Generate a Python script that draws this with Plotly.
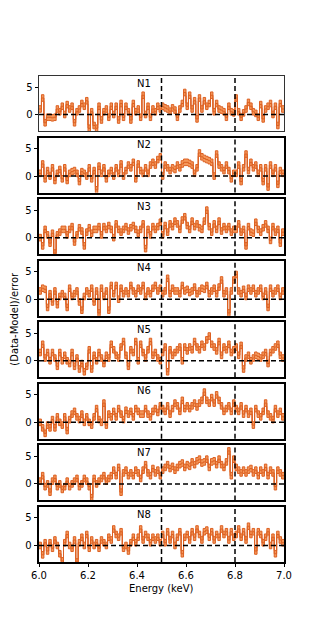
import plotly.graph_objects as go
from plotly.subplots import make_subplots

# ---------------- data ----------------
panel_labels = ["N1", "N2", "N3", "N4", "N5", "N6", "N7", "N8"]
energy_min = 6.0
energy_max = 7.0
bin_width = 0.01
x_ticks = [6.0, 6.2, 6.4, 6.6, 6.8, 7.0]
x_tick_labels = ["6.0", "6.2", "6.4", "6.6", "6.8", "7.0"]
y_ticks = [0, 5]
vlines = [6.5, 6.8]
err_half = 0.6

N1 = [1.0, 3.0, -1.5, -0.5, -0.5, -0.6, -0.5, 1.0, 0.5, 1.5,
      0.0, 1.8, 1.0, 1.5, -1.5, 0.5, 1.0, 2.0, 1.5, 2.5,
      -2.5, 0.5, -2.0, -2.5, 1.5, -1.0, 0.5, 1.0, -0.5, 1.5,
      0.0, 1.5, -1.0, 2.0, -0.5, 1.5, 0.5, -1.0, 2.0, 0.5,
      1.0, -0.5, 3.5, 0.0, 1.5, -0.5, 1.0, 0.5, 1.5, 1.0,
      1.5, 1.2, 1.0, 0.6, 1.2, 0.8, -0.5, 1.0, 2.0, 4.0,
      1.5, 3.5, 1.0, 2.5, -0.8, 3.0, 1.0, 2.5, 1.5, 2.0,
      3.5, 0.5, 2.0, 1.0, 0.8, 0.5, -0.5, 1.5, 0.5, 0.3,
      3.0, 0.5, -0.5, 0.3, 1.0, 2.2, 1.5, 0.5, 0.2, -0.5,
      1.8, -0.8, 1.0, 1.5, 2.0, 0.0, 1.5, -2.0, 2.0, 1.0]
N2 = [0.5, 2.2, -0.5, 1.0, 0.0, 1.5, -0.8, 0.5, 1.2, -0.5,
      1.5, -0.8, 0.5, 0.8, 1.0, 0.5, -1.0, 0.8, 0.5, 0.0,
      1.5, -0.5, 1.0, -2.5, 1.8, 0.5, 1.5, -0.5, 0.5, 1.0,
      0.0, 1.5, 0.5, 2.2, 0.0, 1.0, 2.0, 1.5, 2.5, -0.5,
      2.2, 1.0, 0.5, 1.5, 0.5, 2.0, 2.5, 2.0, 3.0, 3.5,
      0.0, 2.0, 1.5, 1.0, 1.5, 1.2, 2.0, 1.5, 2.2, 2.5,
      2.5, 2.3, 2.0, 0.5, 1.5, 4.2, 3.5, 3.2, 3.0, 2.8,
      2.5, 0.0, 4.0, 2.0, 1.5, 1.0, 2.0, 1.0, -0.5, 0.5,
      0.5, 2.0, -1.0, 1.5, 4.0, 1.0, 2.5, 1.5, 2.0, 0.5,
      1.5, -1.0, 1.5, -2.0, 2.0, 0.5, 1.5, -1.5, 1.0, 0.5]
N3 = [0.0, -1.5, 1.5, 0.5, -1.0, 0.8, -2.8, 0.5, 1.0, 1.5,
      1.5, 0.5, 1.5, 2.0, -0.8, 0.5, 1.8, 1.2, -1.5, 1.0,
      1.8, 0.8, 1.5, 1.5, 2.0, 0.5, 2.0, 1.5, 2.2, 1.5,
      0.0, 2.5, 1.5, 1.0, 1.5, 2.0, 1.2, 1.8, 2.2, 1.5,
      0.8, 1.5, 2.5, -2.0, 1.5, 0.5, 2.0, 1.5, 2.0, 2.8,
      0.5, 2.2, 1.0, 2.5, 2.0, 3.0, 2.5, 1.5, 3.2, 3.8,
      2.2, 1.5, 3.0, 2.0, 2.5, 1.8, 1.5, 3.0, 5.0, 2.0,
      1.0, 2.5, 1.5, 3.0, 1.2, 2.0, 1.5, 2.0, 1.0, 1.5,
      1.5, 2.5, 1.0, 1.5, -1.5, 2.0, 1.0, 0.8, 2.8, 1.5,
      1.0, 1.8, 2.5, 1.5, -0.5, 2.0, 1.0, 1.5, -1.0, 1.0]
N4 = [1.5, 2.0, 1.8, -1.5, 1.0, -0.5, 1.5, -1.0, 0.5, 1.0,
      0.5, -1.5, 2.0, 0.5, 1.0, 1.5, -0.5, -2.0, 0.5, 1.5,
      1.0, 2.0, -0.5, 1.5, -2.5, 2.0, 0.5, 1.5, -2.0, 2.5,
      1.0, 2.5, 0.0, 2.0, 1.0, 1.5, 1.0, 2.5, 1.5, 1.0,
      2.0, 1.5, 2.5, 0.5, 1.5, 1.0, 2.0, 2.5, 1.5, 2.0,
      1.0, 1.5, 3.8, 1.0, 2.0, 1.5, 1.5, 1.0, 2.5, 1.5,
      1.8, 1.2, 1.5, 2.2, 1.0, 1.5, 2.0, 1.8, 2.5, 1.0,
      1.5, 2.0, 1.0, 2.2, 3.5, 1.0, 1.5, -2.5, 1.5, 3.5,
      4.5, 1.5, 1.0, 1.8, 0.5, 2.0, 1.5, 2.0, 1.0, 1.5,
      2.0, 0.5, 1.5, -1.5, 2.0, 1.0, 1.5, 2.0, 0.5, 1.5]
N5 = [1.5, 3.0, 0.5, 1.5, 0.0, 1.5, 0.5, -1.0, 1.5, 0.0,
      1.0, 0.0, -0.5, 1.5, -1.0, 0.5, -1.5, -0.5, -2.0, -1.0,
      2.0, -1.5, 1.0, 0.0, 1.5, 0.5, -0.5, 1.0, 0.5, 3.0,
      2.0, 1.0, 0.5, 2.5, 3.5, 1.0, -1.0, 2.0, 1.5, 3.5,
      0.0, 3.0, 1.5, 0.5, 2.0, 3.5, 1.0, 1.5, 0.5, 0.0,
      1.5, 2.5, -2.0, 2.0, 1.0, 1.5, 2.0, 2.5, 0.0, 2.5,
      1.8, 2.5, 2.0, 3.5, 2.5, 2.0, 3.0, 2.5, 3.8, 4.5,
      3.0, 2.5, 1.8, 3.5, 1.0, 2.5, 2.0, 3.0, 1.5, 2.0,
      2.5, 1.0, 2.8, -1.5, 0.5, 1.0, 0.0, 0.5, 1.0, 0.8,
      0.5, 1.0, 1.5, -0.5, 1.5, 2.0, 2.5, 3.0, 1.0, 0.5]
N6 = [0.0, -1.0, -2.0, -0.5, -1.0, 0.5, -1.0, 1.0, 0.0, -0.5,
      1.0, -1.5, 0.5, 1.5, 2.0, 1.0, 0.5, 1.5, 0.0, 1.0,
      0.0, -0.5, 1.0, 2.5, 0.5, 0.0, 3.5, -0.5, 1.5, 1.0,
      2.0, 1.0, 2.5, 1.5, 0.5, 2.2, 1.5, 2.0, 1.0, 2.5,
      2.0, 1.5, 1.5, 2.5, 1.5, 1.0, 2.0, 2.5, 1.8, 3.0,
      2.5, 2.0, 3.0, 1.5, 2.5, 3.5, 3.0, 2.0, 4.0, 2.5,
      3.0, 2.5, 3.0, 3.5, 2.8, 3.5, 4.0, 5.5, 4.0, 3.5,
      4.5, 3.5, 5.0, 4.0, 3.0, 2.0, 2.5, 3.0, 2.0, 3.5,
      2.5, 2.0, 3.0, 1.5, 2.5, 1.5, 2.0, -0.5, 2.5, 1.5,
      1.0, 2.0, 3.5, 1.5, 1.0, 0.5, 2.5, 1.5, 2.0, 1.0]
N7 = [0.5, 1.5, -0.5, 0.0, -1.5, 0.5, 1.0, -0.5, 0.0, -1.0,
      -0.5, 0.5, -0.5, 0.0, 0.5, 1.0, -0.5, 0.0, 1.0, 0.5,
      -0.5, -2.5, 1.0, 0.0, 0.5, 1.0, 1.5, 0.5, 1.0, 1.5,
      2.5, 1.5, 3.0, -1.5, 2.0, 2.5, 1.5, 2.0, 1.5, 2.5,
      2.0, 1.0, 2.5, 3.5, 2.0, 1.5, 2.8, 2.0, 2.5, 1.5,
      2.5, 3.0, 3.5, 2.8, 3.2, 2.5, 3.0, 3.5, 3.8, 3.0,
      3.5, 3.2, 4.0, 3.5, 4.2, 4.5, 3.8, 4.0, 4.5, 3.0,
      4.0, 4.2, 3.5, 4.5, 3.5, 3.0, 4.0, 6.0, 1.5, 4.5,
      3.0, 2.5, 2.0, 2.5, 2.0, 2.5, 2.8, 2.0, 2.5, 1.5,
      2.5, 2.0, 3.0, 1.5, 2.5, 2.0, -0.5, 2.5, 2.0, 1.5]
N8 = [0.0, -1.7, 0.5, -1.0, 0.5, -0.5, 1.0, 0.0, -1.5, -2.8,
      0.5, 2.0, 0.0, -0.5, 1.0, -3.0, 0.5, 1.5, 0.0, 2.0,
      -0.5, 1.0, 0.0, 0.5, -0.5, 1.0, 0.5, 0.0, 1.5, 1.0,
      3.0, 2.0, 1.5, 2.5, -0.5, 0.0, -1.0, 0.5, 1.5, 0.5,
      1.5, 3.0, 1.0, 2.0, 1.5, 0.5, 1.5, 1.0, 1.5, 0.5,
      2.0, 0.5, 2.5, 1.0, 2.0, 0.0, 1.5, 2.5, -1.5, 1.5,
      2.0, 1.0, 2.5, 1.5, 3.0, 2.0, 1.0, 2.5, 2.8, 1.5,
      2.5, 1.0, 2.0, 1.5, 3.0, 2.0, 2.5, 1.0, 2.5, 1.5,
      2.0, 3.0, 1.5, 2.5, 1.0, 3.5, 2.0, 2.5, -1.0, 2.5,
      2.0, 0.5, 1.5, 2.5, 0.0, 1.5, -1.5, 2.0, 1.0, 0.5]

series = [N1, N2, N3, N4, N5, N6, N7, N8]

# ---------------- layout geometry ----------------
W, H = 316, 631
page_off = 8  # default body margin of the html page
left_px, right_px = 39.3 - page_off, 284.0 - page_off
top_px, bottom_px = 75.7 - page_off, 561.7 - page_off
pitch = 61.57
panel_h = 55.0
area_h = bottom_px - top_px

edge_col = "#dc6022"
fill_col = "#f4975a"
font_fam = "DejaVu Sans"
dash_style = "5px,3px"

n = len(series)
fig = make_subplots(rows=n, cols=1, shared_xaxes=True, vertical_spacing=0.01)

nb = len(N1)
edges = [round(energy_min + i * bin_width, 2) for i in range(nb + 1)]

for i, vals in enumerate(series):
    r = i + 1
    y = list(vals) + [vals[-1]]
    lo = [v - err_half for v in y]
    hi = [v + err_half for v in y]
    fig.add_trace(go.Scatter(x=edges, y=lo, mode="lines",
                             line=dict(shape="hv", color=edge_col, width=1),
                             hoverinfo="skip", showlegend=False), row=r, col=1)
    fig.add_trace(go.Scatter(x=edges, y=hi, mode="lines", fill="tonexty",
                             fillcolor=fill_col,
                             line=dict(shape="hv", color=edge_col, width=1),
                             hoverinfo="skip", showlegend=False), row=r, col=1)
    fig.add_trace(go.Scatter(x=edges, y=y, mode="lines",
                             line=dict(shape="hv", color=edge_col, width=1),
                             hoverinfo="skip", showlegend=False), row=r, col=1)

    ptop = top_px + i * pitch
    pbot = ptop + panel_h
    d0 = (bottom_px - pbot) / area_h
    d1 = (bottom_px - ptop) / area_h
    lw = 1 if i == 0 else 2
    lc = "#333333" if i == 0 else "black"
    ykey = "yaxis" if r == 1 else f"yaxis{r}"
    xkey = "xaxis" if r == 1 else f"xaxis{r}"
    fig.layout[ykey].update(domain=[max(d0, 0), min(d1, 1)], range=[-3, 7],
                            tickvals=y_ticks, ticks="outside", ticklen=3.5,
                            tickwidth=1, tickcolor="black",
                            tickfont=dict(size=10, family=font_fam, color="black"),
                            showline=True, mirror=True, linewidth=lw, linecolor=lc,
                            showgrid=False, zeroline=False, automargin=False)
    last = (r == n)
    fig.layout[xkey].update(range=[energy_min, energy_max],
                            showline=True, mirror=True, linewidth=lw, linecolor=lc,
                            showgrid=False, zeroline=False, automargin=False,
                            tickvals=x_ticks if last else [],
                            ticktext=x_tick_labels if last else [],
                            showticklabels=last,
                            ticks="outside" if last else "", ticklen=3.5,
                            tickwidth=1, tickcolor="black",
                            tickfont=dict(size=10, family=font_fam, color="black"))

    xr = "x" if r == 1 else f"x{r}"
    yr = "y" if r == 1 else f"y{r}"
    for xv in vlines:
        fig.add_shape(type="line", xref=xr, yref=f"{yr} domain", x0=xv, x1=xv,
                      y0=0, y1=1, line=dict(color="black", width=1.5, dash=dash_style))
    fig.add_shape(type="line", xref=f"{xr} domain", yref=yr, x0=0, x1=1,
                  y0=0, y1=0, line=dict(color="black", width=1.5, dash=dash_style))
    fig.add_annotation(x=6.43, y=5.7, xref=xr, yref=yr, text=panel_labels[i],
                       showarrow=False, font=dict(size=10, family=font_fam, color="black"))

fig.add_annotation(text="(Data-Model)/error", xref="paper", yref="paper",
                   x=(14 - page_off - left_px) / (right_px - left_px), y=0.5,
                   textangle=-90, showarrow=False, xanchor="center", yanchor="middle",
                   font=dict(size=10, family=font_fam, color="black"))
fig.add_annotation(text="Energy (keV)", xref="paper", yref="paper",
                   x=0.5, y=-(588 - page_off - bottom_px) / area_h, showarrow=False,
                   xanchor="center", yanchor="middle",
                   font=dict(size=10, family=font_fam, color="black"))

fig.update_layout(width=W, height=H,
                  margin=dict(l=left_px, r=W - right_px, t=top_px, b=H - bottom_px, pad=0),
                  paper_bgcolor="white", plot_bgcolor="white", showlegend=False)

fig.write_html("out.html")
